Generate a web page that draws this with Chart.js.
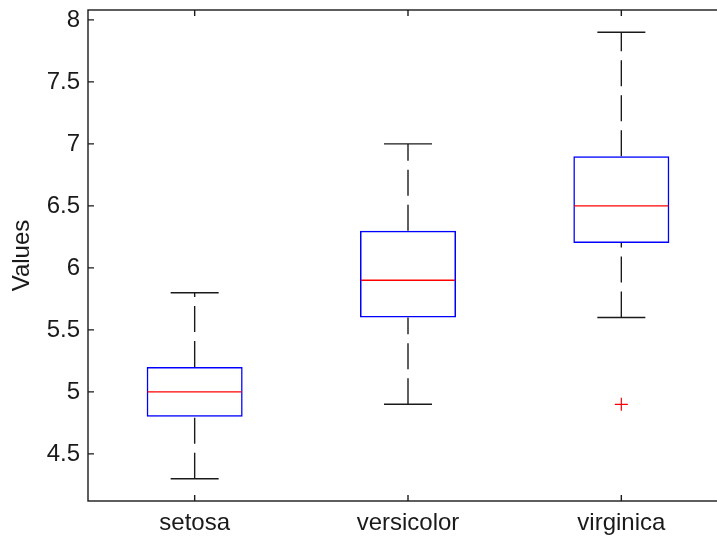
<!DOCTYPE html>
<html>
<head>
<meta charset="utf-8">
<script src="https://cdn.jsdelivr.net/npm/chart.js@4/dist/chart.umd.min.js"></script>
<style>
  html, body { margin: 0; padding: 0; overflow: hidden; background: #fff; }
  #wrap { width: 740px; height: 541px; }
</style>
</head>
<body>
<div id="wrap"><canvas id="c" width="740" height="541"></canvas></div>
<script>
// Sepal length by species (cm)
const categories = ['setosa', 'versicolor', 'virginica'];
const whiskerLow  = [4.3, 4.9, 5.6];
const q1          = [4.8, 5.6, 6.2];
const median      = [5.0, 5.9, 6.5];
const q3          = [5.2, 6.3, 6.9];
const whiskerHigh = [5.8, 7.0, 7.9];
const outliers    = [{ x: 'virginica', y: 4.9 }];
const yTicks      = [4.5, 5, 5.5, 6, 6.5, 7, 7.5, 8];
const yRange      = [4.12, 8.08];

const BLUE = '#0000ff', RED = '#ff0000', INK = '#1a1a1a';
const FONT = { family: 'Liberation Sans, Arial, sans-serif', size: 24 };

const datasets = [];

// boxes: q1 .. q3
datasets.push({
  type: 'bar',
  data: categories.map((c, i) => [q1[i], q3[i]]),
  backgroundColor: 'rgba(0,0,0,0)',
  borderColor: BLUE,
  borderWidth: 1.5,
  borderSkipped: false,
  barPercentage: 0.45,
  categoryPercentage: 1,
  order: 3
});

// dashed whiskers, each drawn from its lower value upward
categories.forEach((c, i) => {
  [[whiskerLow[i], q1[i]], [q3[i], whiskerHigh[i]]].forEach(([a, b]) => {
    datasets.push({
      type: 'line',
      data: [{ x: c, y: a }, { x: c, y: b }],
      borderColor: INK,
      borderWidth: 1.4,
      borderDash: [26, 9],
      pointRadius: 0,
      fill: false,
      order: 2
    });
  });
});

// whisker caps
datasets.push({
  type: 'scatter',
  data: categories.flatMap((c, i) => [{ x: c, y: whiskerLow[i] }, { x: c, y: whiskerHigh[i] }]),
  pointStyle: 'line',
  pointRadius: 24,
  borderColor: INK,
  borderWidth: 1.4,
  order: 1
});

// medians
datasets.push({
  type: 'scatter',
  data: categories.map((c, i) => ({ x: c, y: median[i] })),
  pointStyle: 'line',
  pointRadius: 47,
  borderColor: RED,
  borderWidth: 1.4,
  order: 0
});

// outliers
datasets.push({
  type: 'scatter',
  data: outliers,
  pointStyle: 'cross',
  pointRadius: 6.5,
  borderColor: RED,
  borderWidth: 1.2,
  order: 0
});

// axes frame and inward tick marks
const frame = {
  id: 'frame',
  afterDraw(chart) {
    const { ctx, chartArea: a, scales: { x, y } } = chart;
    ctx.save();
    ctx.strokeStyle = INK;
    ctx.lineWidth = 1.4;
    ctx.strokeRect(a.left, a.top, a.right - a.left, a.bottom - a.top);
    ctx.beginPath();
    y.ticks.forEach((t, i) => {
      const py = y.getPixelForTick(i);
      ctx.moveTo(a.left, py); ctx.lineTo(a.left + 6, py);
      ctx.moveTo(a.right, py); ctx.lineTo(a.right - 6, py);
    });
    x.ticks.forEach((t, i) => {
      const px = x.getPixelForTick(i);
      ctx.moveTo(px, a.bottom); ctx.lineTo(px, a.bottom - 6);
      ctx.moveTo(px, a.top); ctx.lineTo(px, a.top + 6);
    });
    ctx.stroke();
    ctx.restore();
  }
};

function noEdgePadding(s) {
  s.paddingTop = 0; s.paddingBottom = 0; s.paddingLeft = 0; s.paddingRight = 0;
}

new Chart(document.getElementById('c'), {
  data: { labels: categories, datasets },
  options: {
    responsive: false,
    animation: false,
    events: [],
    layout: { autoPadding: false, padding: { top: 10, right: 12, left: 0, bottom: 0 } },
    plugins: { legend: { display: false }, tooltip: { enabled: false } },
    scales: {
      x: {
        type: 'category',
        offset: true,
        grid: { display: false, drawTicks: false },
        border: { display: false },
        ticks: { font: FONT, color: INK, padding: 8 },
        afterFit(s) { s.height = 40; noEdgePadding(s); }
      },
      y: {
        type: 'linear',
        min: yRange[0],
        max: yRange[1],
        grid: { display: false, drawTicks: false },
        border: { display: false },
        afterBuildTicks(s) { s.ticks = yTicks.map(v => ({ value: v })); },
        ticks: { font: FONT, color: INK, padding: 8, callback: v => String(v) },
        title: { display: true, text: 'Values', font: FONT, color: INK, padding: { top: 8, bottom: 0 } },
        afterFit(s) { s.width = 88; noEdgePadding(s); }
      }
    }
  },
  plugins: [frame]
});
</script>
</body>
</html>
